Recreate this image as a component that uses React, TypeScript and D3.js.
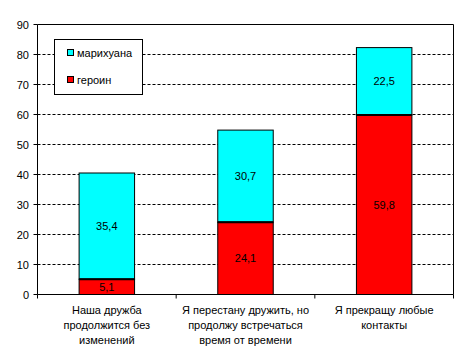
import React from "react";
import * as d3 from "d3";

const categories = [
  "Наша дружба\nпродолжится без\nизменений",
  "Я перестану дружить, но\nпродолжу встречаться\nвремя от времени",
  "Я прекращу любые\nконтакты",
];
const heroin = [5.1, 24.1, 59.8];
const marijuana = [35.4, 30.7, 22.5];
const yTicks = [0, 10, 20, 30, 40, 50, 60, 70, 80, 90];
const seriesNames = ["марихуана", "героин"];
const seriesColors = ["#00FFFF", "#FF0000"];

const W = 468;
const H = 358;
const FONT = "'Liberation Sans', Arial, sans-serif";

export default function App() {
  const left = 37.5, right = 453.5, top = 24.5, bottom = 294.5;
  const y = d3.scaleLinear().domain([0, 90]).range([bottom, top]);
  const x = d3.scaleBand<string>().domain(categories).range([left, right]).padding(0);
  const step = x.step();
  const bw = step * 0.4;
  const fmt = (v: number) => v.toFixed(1).replace(".", ",");

  return (
    <svg width={W} height={H} style={{ position: "absolute", left: 0, top: 0, background: "#fff" }} fontFamily={FONT}>
      <rect x={0} y={0} width={W} height={H} fill="#fff" />
      {/* gridlines */}
      {yTicks.filter((t) => t > 0 && t < 90).map((t) => (
        <line key={t} x1={left} x2={right} y1={y(t)} y2={y(t)} stroke="#000" strokeDasharray="3,2" strokeWidth={1} />
      ))}
      {/* plot border top/right */}
      <line x1={left} x2={right} y1={top} y2={top} stroke="#000" />
      <line x1={right} x2={right} y1={top} y2={bottom} stroke="#000" />
      {/* bars */}
      {categories.map((c, i) => {
        const bx = (x(c) as number) + (step - bw) / 2;
        const h0 = heroin[i];
        const m0 = marijuana[i];
        return (
          <g key={c}>
            <rect x={bx} y={y(h0 + m0)} width={bw} height={y(h0) - y(h0 + m0)} fill={seriesColors[0]} stroke="#000" strokeWidth={1} />
            <rect x={bx} y={y(h0)} width={bw} height={y(0) - y(h0)} fill={seriesColors[1]} stroke="#000" strokeWidth={1} />
            <line x1={bx} x2={bx + bw} y1={y(h0)} y2={y(h0)} stroke="#000" strokeWidth={2} />
            <text x={bx + bw / 2} y={(y(0) + y(h0)) / 2} textAnchor="middle" dominantBaseline="central" fontSize={11}>{fmt(h0)}</text>
            <text x={bx + bw / 2} y={(y(h0) + y(h0 + m0)) / 2} textAnchor="middle" dominantBaseline="central" fontSize={11}>{fmt(m0)}</text>
          </g>
        );
      })}
      {/* y axis */}
      <line x1={left} x2={left} y1={top} y2={bottom} stroke="#000" />
      {yTicks.map((t) => (
        <g key={t}>
          <line x1={left - 4} x2={left} y1={y(t)} y2={y(t)} stroke="#000" />
          <text x={29} y={y(t)} textAnchor="end" dominantBaseline="central" fontSize={11}>{t}</text>
        </g>
      ))}
      {/* x axis */}
      <line x1={left} x2={right} y1={bottom} y2={bottom} stroke="#000" />
      {[0, 1, 2, 3].map((k) => (
        <line key={k} x1={left + k * step} x2={left + k * step} y1={bottom} y2={bottom + 4} stroke="#000" />
      ))}
      {categories.map((c) => (
        <text key={c} textAnchor="middle" fontSize={11}>
          {c.split("\n").map((line, j) => (
            <tspan key={j} x={(x(c) as number) + step / 2} y={314 + j * 15}>{line}</tspan>
          ))}
        </text>
      ))}
      {/* legend */}
      <rect x={54.5} y={39.5} width={88} height={55} fill="#fff" stroke="#000" />
      {seriesNames.map((n, i) => (
        <g key={n}>
          <rect x={67.5} y={49.5 + i * 27} width={6} height={6} fill={seriesColors[i]} stroke="#000" />
          <text x={77} y={52.5 + i * 27} dominantBaseline="central" fontSize={11}>{n}</text>
        </g>
      ))}
    </svg>
  );
}
